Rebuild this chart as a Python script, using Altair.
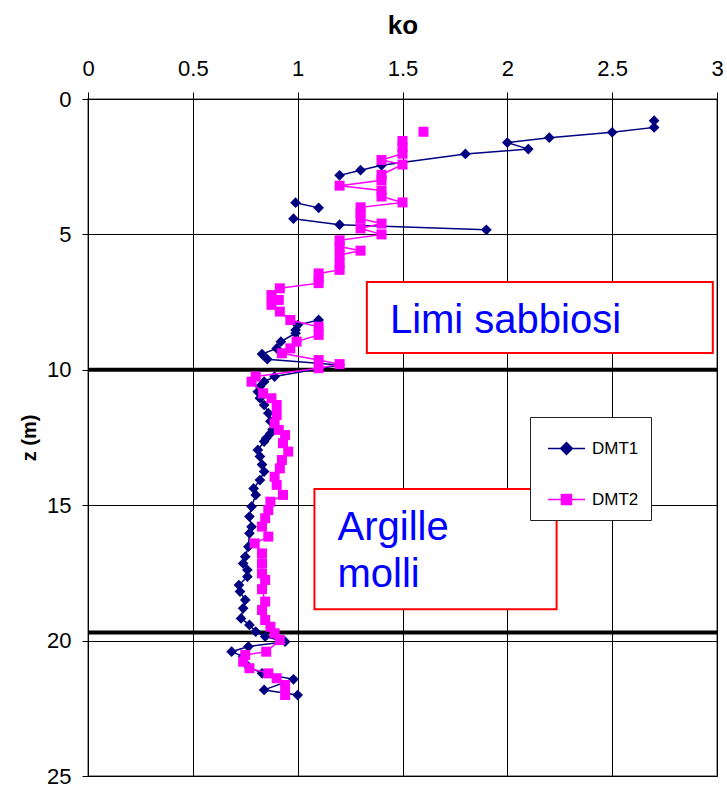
import altair as alt
import pandas as pd

# DMT1 profile: depth z (m), ko, and run id (a new run where the trace is interrupted)
dmt1_z = [0.80, 1.05, 1.23, 1.43, 1.61, 1.85, 2.03, 2.45, 2.63, 2.82,
          3.83, 4.02,
          4.42, 4.64, 4.83,
          8.16, 8.35, 8.53, 8.65, 8.96, 9.21, 9.42, 9.61, 9.82, 10.25,
          10.44, 10.62, 10.81, 11.05, 11.30, 11.60, 11.90, 12.20, 12.35, 12.53,
          12.65, 12.96, 13.20, 13.50, 13.76, 14.07, 14.38, 14.62, 15.05, 15.42,
          15.80, 16.04, 16.53, 16.90, 17.15, 17.39, 17.64, 17.95, 18.19, 18.50,
          18.81, 19.18, 19.42, 19.67, 19.85, 20.04, 20.22, 20.41, 20.59, 20.96,
          21.21, 21.43, 21.82, 22.01]
dmt1_ko = [2.70, 2.70, 2.50, 2.20, 2.00, 2.10, 1.80, 1.40, 1.30, 1.20,
           0.99, 1.10,
           0.98, 1.20, 1.90,
           1.10, 1.00, 0.99, 0.99, 0.92, 0.90, 0.83, 0.855, 1.20, 0.89,
           0.84, 0.82, 0.81, 0.82, 0.84, 0.86, 0.87, 0.88, 0.87, 0.85,
           0.84, 0.81, 0.82, 0.83, 0.84, 0.82, 0.79, 0.80, 0.78, 0.77,
           0.78, 0.77, 0.765, 0.75, 0.74, 0.76, 0.76, 0.72, 0.725, 0.75,
           0.74, 0.73, 0.77, 0.80, 0.845, 0.94, 0.765, 0.685, 0.74, 0.765,
           0.83, 0.98, 0.84, 1.00]
dmt1_run = [1] * 10 + [2] * 2 + [3] * 3 + [4] * 54

# DMT2 profile
dmt2_z = [1.21,
          1.55, 1.78, 2.02, 2.25, 2.42, 2.80, 3.00, 3.20, 3.38, 3.60,
          3.82, 4.00, 4.20, 4.42, 4.60, 4.78, 5.00, 5.22, 5.45, 5.60,
          5.76, 6.07, 6.31, 6.44, 6.62, 6.80, 6.99, 7.24, 7.42, 7.60,
          7.85, 8.16, 8.41, 8.71, 8.96, 9.21, 9.39, 9.64, 9.79, 9.94,
          10.25, 10.44, 10.87, 11.05, 11.30, 11.67, 11.98, 12.22, 12.41, 12.71,
          13.02, 13.33, 13.64, 13.95, 14.25, 14.62, 14.87, 15.18, 15.48, 15.79,
          16.16, 16.41, 16.78, 17.15, 17.52, 17.76, 18.10, 18.56, 18.87, 19.24,
          19.49, 19.73, 19.98, 20.41, 20.53, 20.78, 21.02, 21.21, 21.39, 21.64,
          22.01]
dmt2_ko = [1.60,
           1.50, 1.50, 1.50, 1.40, 1.50, 1.40, 1.40, 1.20, 1.40, 1.40,
           1.50, 1.30, 1.30, 1.30, 1.40, 1.30, 1.40, 1.20, 1.20, 1.30,
           1.20, 1.20, 1.20, 1.10, 1.10, 1.10, 0.915, 0.875, 0.91, 0.875,
           0.915, 0.965, 1.10, 1.10, 0.995, 0.965, 0.925, 1.10, 1.20, 1.10,
           0.80, 0.78, 0.835, 0.875, 0.90, 0.90, 0.89, 0.91, 0.94, 0.93,
           0.955, 0.925, 0.915, 0.89, 0.90, 0.93, 0.87, 0.86, 0.845, 0.83,
           0.86, 0.795, 0.83, 0.83, 0.83, 0.845, 0.83, 0.845, 0.83, 0.845,
           0.87, 0.89, 0.915, 0.85, 0.75, 0.74, 0.77, 0.86, 0.90, 0.94,
           0.94]
dmt2_run = [1] + [2] * 81

series_names = ["DMT1", "DMT2"]
series_colors = ["#000080", "#FF00FF"]

# Layer boundaries (depth, m)
boundary_z = [10.0, 19.7]

# Annotation boxes (ko range, depth range) and their labels
box_ko1 = [1.33, 1.08]
box_ko2 = [2.98, 2.235]
box_z1 = [6.76, 14.40]
box_z2 = [9.38, 18.84]
label_ko = [1.44, 1.19]
label_z = [8.64, 16.29]
label_text = ["Limi sabbiosi", "Argille\nmolli"]

FONT = "Liberation Sans"

d1 = pd.DataFrame({"z": dmt1_z, "ko": dmt1_ko, "run": dmt1_run})
d1["i"] = range(len(d1))
d2 = pd.DataFrame({"z": dmt2_z, "ko": dmt2_ko, "run": dmt2_run})
d2["i"] = range(len(d2))
rules_df = pd.DataFrame({"z": boundary_z})
boxes_df = pd.DataFrame({"k1": box_ko1, "k2": box_ko2, "z1": box_z1, "z2": box_z2})
labels_df = pd.DataFrame({"ko": label_ko, "z": label_z, "t": label_text})
legend_df = pd.DataFrame({"serie": series_names})

x_scale = alt.Scale(domain=[0, 3], nice=False, zero=False)
y_scale = alt.Scale(domain=[0, 25], nice=False, reverse=True, zero=False)

x_axis = alt.Axis(
    orient="top", values=[0, 0.5, 1, 1.5, 2, 2.5, 3], format="~g", title="ko",
    grid=True, gridColor="black", gridWidth=1, gridOpacity=1,
    domainColor="black", domainWidth=1, tickColor="black", tickSize=7,
    labelFontSize=22, labelColor="black", labelPadding=12, labelFlush=False,
    labelOverlap=False, titleFontSize=26, titleFontWeight="bold",
    titleColor="black", titlePadding=19,
)
y_axis = alt.Axis(
    values=[0, 5, 10, 15, 20, 25], format="~g", title="z (m)",
    grid=True, gridColor="black", gridWidth=1, gridOpacity=1,
    domainColor="black", domainWidth=1, tickColor="black", tickSize=6,
    labelFontSize=22, labelColor="black", labelPadding=11, labelFlush=False,
    labelOverlap=False, titleFontSize=20, titleFontWeight="bold",
    titleColor="black", titlePadding=7,
)


def xq(field):
    return alt.X(f"{field}:Q", scale=x_scale, axis=x_axis)


def yq(field):
    return alt.Y(f"{field}:Q", scale=y_scale, axis=y_axis)


rules = alt.Chart(rules_df).mark_rule(color="black", strokeWidth=4).encode(y=yq("z"))

boxes = alt.Chart(boxes_df).mark_rect(fill="white", stroke="#FF0000", strokeWidth=2).encode(
    x=xq("k1"), x2="k2", y=yq("z1"), y2="z2"
)

labels = alt.Chart(labels_df).mark_text(
    align="left", baseline="alphabetic", fontSize=40, font=FONT, color="#0000FF",
    lineBreak="\n", lineHeight=47,
).encode(x=xq("ko"), y=yq("z"), text="t:N")


def profile(df, color, shape, size):
    line = alt.Chart(df).mark_line(color=color, strokeWidth=1.5).encode(
        x=xq("ko"), y=yq("z"), detail="run:N", order="i:Q"
    )
    pts = alt.Chart(df).mark_point(
        shape=shape, filled=True, size=size, color=color, opacity=1
    ).encode(x=xq("ko"), y=yq("z"))
    return line + pts


p1 = profile(d1, series_colors[0], "diamond", 115)
p2 = profile(d2, series_colors[1], "square", 100)

# legend symbols: a short line with the series marker at its centre
legend_paths = [
    "M-1,0L1,0M0,-0.32L0.32,0L0,0.32L-0.32,0Z",
    "M-1,0L1,0M-0.27,-0.27L0.27,-0.27L0.27,0.27L-0.27,0.27Z",
]
leg = alt.Legend(
    orient="none", legendX=442, legendY=318, title=None,
    fillColor="white", strokeColor="#222222", padding=12, symbolOffset=5,
    symbolSize=1369, symbolStrokeWidth=1.5, rowPadding=22, labelOffset=6,
    labelFontSize=17, labelFont=FONT, labelColor="black",
    labelExpr="datum.label + '\u00a0\u00a0'",
)
legend_layer = alt.Chart(legend_df).mark_point(
    filled=True, size=1369, strokeWidth=1.5, opacity=1
).encode(
    color=alt.Color("serie:N", scale=alt.Scale(domain=series_names, range=series_colors), legend=leg),
    stroke=alt.Stroke("serie:N", scale=alt.Scale(domain=series_names, range=series_colors), legend=leg),
    shape=alt.Shape("serie:N", scale=alt.Scale(domain=series_names, range=legend_paths), legend=leg),
).transform_filter("false")

chart = alt.layer(rules, boxes, labels, p1, p2, legend_layer).properties(
    width=629, height=677,
    autosize=alt.AutoSizeParams(type="none"),
    padding={"left": 88, "top": 99, "right": 10, "bottom": 11},
).configure(
    font=FONT,
).configure_view(
    stroke="#999999", strokeWidth=2,
)

chart.save("out.html", embed_options={"renderer": "svg", "actions": False})
